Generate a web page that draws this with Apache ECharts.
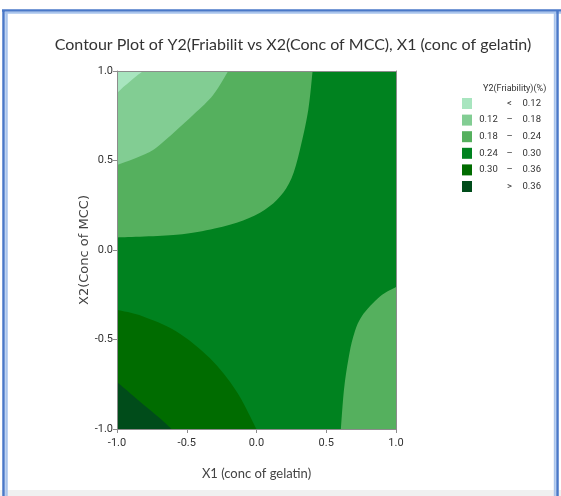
<!DOCTYPE html>
<html>
<head>
<meta charset="utf-8">
<script src="https://cdn.jsdelivr.net/npm/echarts@6/dist/echarts.min.js"></script>
<style>
html,body{margin:0;padding:0;background:#fff;}
#chart{width:561px;height:496px;}
</style>
</head>
<body>
<div id="chart"></div>
<script>
// ---- data ----
const xTicks = [-1.0, -0.5, 0.0, 0.5, 1.0];
const yTicks = [-1.0, -0.5, 0.0, 0.5, 1.0];
const levelNames = ['<  0.12', '0.12 – 0.18', '0.18 – 0.24', '0.24 – 0.30', '0.30 – 0.36', '>  0.36'];
const levelColors = ['#a8e5bf', '#82cd93', '#55b05e', '#00821f', '#006c00', '#004c1a'];

// contour boundaries in data units (X1, X2)
const bndLt012 = [[-1, 0.875], [-0.955, 0.91], [-0.909, 0.94], [-0.86, 0.972], [-0.813, 1]];
const bnd012_018 = [[-1, 0.475], [-0.813, 0.531], [-0.694, 0.587], [-0.455, 0.754], [-0.311, 0.866], [-0.203, 1]];
const bnd018_024_top = [[-1, 0.0695], [-0.574, 0.0845], [-0.3, 0.12], [-0.096, 0.165], [0.06, 0.225], [0.17, 0.3], [0.251, 0.401], [0.311, 0.559], [0.371, 0.782], [0.402, 1]];
const bnd018_024_right = [[1, -0.207], [0.885, -0.26], [0.754, -0.371], [0.694, -0.483], [0.658, -0.613], [0.627, -0.781], [0.605, -1]];
const bnd030_036 = [[-1, -0.334], [-0.813, -0.371], [-0.574, -0.455], [-0.335, -0.604], [-0.143, -0.79], [0, -1]];
const bndGt036 = [[-1, -0.738], [-0.837, -0.846], [-0.694, -0.939], [-0.61, -1]];
const fullArea = [[-1, -1], [1, -1], [1, 1], [-1, 1]];

const titleText = 'Contour Plot of Y2(Friabilit vs X2(Conc of MCC), X1 (conc of gelatin)';
const xName = 'X1 (conc of gelatin)';
const yName = 'X2(Conc of MCC)';
const legendTitle = 'Y2(Friability)(%)';

// ---- helpers ----
function curvePath(api, pts, corners) {
  const p = pts.map(d => api.coord(d));
  let d = 'M' + p[0][0] + ' ' + p[0][1];
  for (let i = 0; i < p.length - 1; i++) {
    const p0 = p[i - 1] || p[i], p1 = p[i], p2 = p[i + 1], p3 = p[i + 2] || p[i + 1];
    const c1 = [p1[0] + (p2[0] - p0[0]) / 6, p1[1] + (p2[1] - p0[1]) / 6];
    const c2 = [p2[0] - (p3[0] - p1[0]) / 6, p2[1] - (p3[1] - p1[1]) / 6];
    d += 'C' + c1[0] + ' ' + c1[1] + ' ' + c2[0] + ' ' + c2[1] + ' ' + p2[0] + ' ' + p2[1];
  }
  corners.forEach(c => { const q = api.coord(c); d += 'L' + q[0] + ' ' + q[1]; });
  return d + 'Z';
}
function polyPath(api, pts) {
  const p = pts.map(d => api.coord(d));
  return 'M' + p.map(q => q[0] + ' ' + q[1]).join('L') + 'Z';
}
function regionSeries(idx, shapes, z) {
  return {
    name: levelNames[idx], type: 'custom', z: z, silent: true, clip: true,
    itemStyle: { color: levelColors[idx] },
    data: [[0, 0]],
    renderItem: function (params, api) {
      return {
        type: 'group',
        children: shapes(api).map(d => ({ type: 'path', shape: { pathData: d }, style: { fill: levelColors[idx], stroke: null } }))
      };
    }
  };
}

const chart = echarts.init(document.getElementById('chart'), null, { renderer: 'canvas' });
const narrow = 'Roboto, "Liberation Sans", sans-serif';
const axisCommon = {
  type: 'value', min: -1, max: 1, interval: 0.5, z: 5,
  axisLine: { show: true, onZero: false, lineStyle: { color: '#8c8c8c', width: 1 } },
  axisTick: { show: true, length: 4, lineStyle: { color: '#8c8c8c' } },
  splitLine: { show: false },
  axisLabel: { color: '#333', fontSize: 11, fontFamily: narrow, formatter: v => v.toFixed(1) }
};
const hiddenAxis = {
  type: 'value', min: -1, max: 1, z: 5,
  axisLine: { show: true, onZero: false, lineStyle: { color: '#8c8c8c', width: 1 } },
  axisTick: { show: false }, axisLabel: { show: false }, splitLine: { show: false }
};

chart.setOption({
  animation: false,
  backgroundColor: '#fff',
  title: [
    { text: titleText, left: 288, top: 32, textAlign: 'center',
      textStyle: { fontSize: 16, fontWeight: 'normal', color: '#333', fontFamily: 'Lato, Roboto, sans-serif' } },
    { text: legendTitle, left: 478, top: 79,
      textStyle: { fontSize: 9, fontWeight: 'normal', color: '#333', fontFamily: narrow } }
  ],
  grid: { left: 117, top: 71, width: 279, height: 358, containLabel: false },
  xAxis: [
    Object.assign({}, axisCommon, { position: 'bottom', name: xName, nameLocation: 'middle', nameGap: 38,
      nameTextStyle: { fontSize: 13, color: '#444', fontFamily: 'Lato, Roboto, sans-serif' },
      axisLabel: Object.assign({}, axisCommon.axisLabel, { margin: 9 }) }),
    Object.assign({}, hiddenAxis, { position: 'top' })
  ],
  yAxis: [
    Object.assign({}, axisCommon, { position: 'left', name: yName, nameLocation: 'middle', nameGap: 24,
      nameTextStyle: { fontSize: 13, color: '#444', fontFamily: '"DejaVu Sans", sans-serif' },
      axisLabel: Object.assign({}, axisCommon.axisLabel, { margin: 4 }) }),
    Object.assign({}, hiddenAxis, { position: 'right' })
  ],
  legend: {
    data: levelNames, orient: 'vertical', left: 457, top: 93,
    icon: 'rect', itemWidth: 10, itemHeight: 11, itemGap: 5.6,
    selectedMode: false,
    textStyle: { fontSize: 9.5, color: '#333', fontFamily: narrow,
      rich: {
        lo: { width: 23, align: 'right', fontSize: 9.5, fontFamily: narrow, color: '#333' },
        op: { width: 19, align: 'center', fontSize: 9.5, fontFamily: narrow, color: '#333' },
        hi: { width: 22, align: 'right', fontSize: 9.5, fontFamily: narrow, color: '#333' }
      } },
    formatter: function (name) {
      const parts = name.split(/\s+/);
      if (parts.length === 3) return '{lo|' + parts[0] + '}{op|' + parts[1] + '}{hi|' + parts[2] + '}';
      return '{lo|}{op|' + parts[0] + '}{hi|' + parts[1] + '}';
    }
  },
  graphic: [
    { type: 'rect', silent: true, shape: { x: 0, y: 490, width: 561, height: 6 }, style: { fill: '#f0f0f0' } },
    { type: 'line', silent: true, shape: { x1: 3.5, y1: 10, x2: 3.5, y2: 496 }, style: { stroke: '#4a78c8', lineWidth: 2.5 } },
    { type: 'line', silent: true, shape: { x1: 6.5, y1: 12, x2: 6.5, y2: 496 }, style: { stroke: '#a9c4ec', lineWidth: 2.5 } },
    { type: 'line', silent: true, shape: { x1: 2, y1: 10.5, x2: 561, y2: 10.5 }, style: { stroke: '#4a78c8', lineWidth: 2.5 } },
    { type: 'line', silent: true, shape: { x1: 5, y1: 12.8, x2: 561, y2: 12.8 }, style: { stroke: '#a9c4ec', lineWidth: 2 } },
    { type: 'line', silent: true, shape: { x1: 557.5, y1: 10, x2: 557.5, y2: 496 }, style: { stroke: '#4a78c8', lineWidth: 2.5 } },
    { type: 'line', silent: true, shape: { x1: 554.8, y1: 12, x2: 554.8, y2: 496 }, style: { stroke: '#a9c4ec', lineWidth: 2 } }
  ],
  series: [
    regionSeries(3, api => [polyPath(api, fullArea)], 1),
    regionSeries(2, api => [curvePath(api, bnd018_024_top, [[-1, 1]]), curvePath(api, bnd018_024_right, [[1, -1]])], 2),
    regionSeries(1, api => [curvePath(api, bnd012_018, [[-1, 1]])], 3),
    regionSeries(0, api => [curvePath(api, bndLt012, [[-1, 1]])], 4),
    regionSeries(4, api => [curvePath(api, bnd030_036, [[-1, -1]])], 2),
    regionSeries(5, api => [curvePath(api, bndGt036, [[-1, -1]])], 3)
  ]
});
</script>
</body>
</html>
